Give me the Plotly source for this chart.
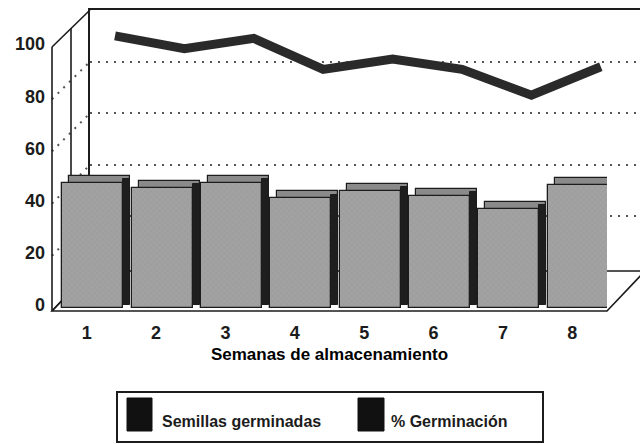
import plotly.graph_objects as go

# ---- data -------------------------------------------------------------
weeks = [1, 2, 3, 4, 5, 6, 7, 8]
seeds_germinated = [48, 46, 48, 42, 45, 43, 38, 47]
germination_pct = [90, 85, 89, 77, 81, 77, 67, 78]
y_ticks = [0, 20, 40, 60, 80, 100]
x_title = "Semanas de almacenamiento"
legend_labels = ["Semillas germinadas", "% Germinación"]

# ---- page geometry (pixels) -------------------------------------------
W, H = 640, 444
FRONT_L, FRONT_R = 52, 607          # front (bar) plane
FRONT_Y0, FRONT_Y100 = 308, 47
BACK_L, BACK_R = 90, 640            # back wall plane
BACK_Y0, BACK_Y100 = 268, 10
FLOOR_FRONT = 311
DEPTH_X, DEPTH_Y = BACK_L - FRONT_L, FRONT_Y0 - BACK_Y0

slot = (FRONT_R - FRONT_L) / 8.0          # px per category on front plane
back_slot = 69.4
back_first = 115

bar_w = 61 / slot                     # front face width (category units)
bar_shift = 6 / slot                  # bars sit slightly behind the floor edge
side_w = 7 / slot                     # width of the dark side face
top_d = 7 / ((FRONT_Y0 - FRONT_Y100) / 100.0)   # height of the top face


def fx(x):
    return x / W


def fy(y):
    return 1 - y / H


def front_y(v):
    return FRONT_Y0 - (FRONT_Y0 - FRONT_Y100) * v / 100.0


def back_y(v):
    return BACK_Y0 - (BACK_Y0 - BACK_Y100) * v / 100.0


ink = "#1c1c1c"
font_family = "Liberation Sans, Arial, sans-serif"

fig = go.Figure()

# Line on the back wall
fig.add_trace(go.Scatter(
    x=weeks, y=germination_pct, mode="lines",
    line=dict(color="#2a2a2a", width=9),
    xaxis="x", yaxis="y", showlegend=False, name=legend_labels[1],
))

# 3-D style bars: top/back face, dark side face, front face
fig.add_trace(go.Bar(
    x=weeks, y=seeds_germinated, base=top_d,
    width=bar_w, offset=-bar_w / 2 + bar_shift + side_w,
    marker=dict(color="#8a8a8a", line=dict(color=ink, width=1.2)),
    xaxis="x2", yaxis="y2", showlegend=False, hoverinfo="skip",
))
fig.add_trace(go.Bar(
    x=weeks, y=seeds_germinated, base=top_d * 0.5,
    width=side_w, offset=bar_w / 2 + bar_shift,
    marker=dict(color="#1e1e1e", line=dict(color=ink, width=1)),
    xaxis="x2", yaxis="y2", showlegend=False, hoverinfo="skip",
))
fig.add_trace(go.Bar(
    x=weeks, y=seeds_germinated,
    width=bar_w, offset=-bar_w / 2 + bar_shift,
    marker=dict(color="#9c9c9c", line=dict(color=ink, width=1.3),
                pattern=dict(shape="x", size=4, solidity=0.12,
                             fgcolor="#7c7c7c", bgcolor="#a2a2a2")),
    xaxis="x2", yaxis="y2", showlegend=False, name=legend_labels[0],
))

# ---- frame of the 3-D box ----------------------------------------------
shapes = []
line_k = dict(color=ink, width=1.6)
dot_k = dict(color="#555555", width=2, dash="2px,6px")

# floor
shapes.append(dict(
    type="path", xref="paper", yref="paper", layer="below",
    path=(f"M{fx(FRONT_L)},{fy(FLOOR_FRONT)} L{fx(FRONT_R)},{fy(FLOOR_FRONT)} "
          f"L{fx(FRONT_R + DEPTH_X)},{fy(FLOOR_FRONT - DEPTH_Y)} "
          f"L{fx(BACK_L)},{fy(FLOOR_FRONT - DEPTH_Y)} Z"),
    fillcolor="white", line=line_k,
))
# side wall grid lines
for v in y_ticks:
    style = line_k if v in (0, 100) else dot_k
    y0 = FLOOR_FRONT if v == 0 else front_y(v)
    y1 = FLOOR_FRONT - DEPTH_Y if v == 0 else back_y(v)
    shapes.append(dict(type="line", xref="paper", yref="paper", layer="below",
                       x0=fx(FRONT_L), y0=fy(y0), x1=fx(BACK_L), y1=fy(y1),
                       line=style))
# divider between the two rows on the side wall
mid_x = (FRONT_L + BACK_L) / 2
shapes.append(dict(type="line", xref="paper", yref="paper", layer="below",
                   x0=fx(mid_x), y0=fy((FRONT_Y100 + BACK_Y100) / 2),
                   x1=fx(mid_x), y1=fy(FLOOR_FRONT - DEPTH_Y / 2),
                   line=line_k))
# front left edge (value axis)
shapes.append(dict(type="line", xref="paper", yref="paper", layer="above",
                   x0=fx(FRONT_L), y0=fy(FRONT_Y100),
                   x1=fx(FRONT_L), y1=fy(FLOOR_FRONT), line=line_k))

# ---- legend box -----------------------------------------------------------
shapes.append(dict(type="rect", xref="paper", yref="paper",
                   x0=fx(117), x1=fx(543), y0=fy(392), y1=fy(442),
                   line=dict(color=ink, width=2), fillcolor="white"))
for x0, x1 in [(127, 152), (358, 384)]:
    shapes.append(dict(type="rect", xref="paper", yref="paper",
                       x0=fx(x0), x1=fx(x1), y0=fy(398), y1=fy(431),
                       line=dict(color="#111", width=1), fillcolor="#111"))

annotations = [
    dict(text=legend_labels[0], x=fx(160), y=fy(421), xref="paper", yref="paper",
         xanchor="left", yanchor="middle", showarrow=False,
         font=dict(family=font_family, size=16, color=ink, weight="bold")),
    dict(text=legend_labels[1], x=fx(389), y=fy(421), xref="paper", yref="paper",
         xanchor="left", yanchor="middle", showarrow=False,
         font=dict(family=font_family, size=16, color=ink, weight="bold")),
]

tick_font = dict(family=font_family, size=18, color=ink, weight="bold")

fig.update_layout(
    width=W, height=H,
    margin=dict(l=0, r=0, t=0, b=0),
    paper_bgcolor="white", plot_bgcolor="rgba(0,0,0,0)",
    barmode="overlay", bargap=0,
    shapes=shapes, annotations=annotations,
    # back wall
    xaxis=dict(domain=[fx(BACK_L), fx(BACK_R)],
               range=[1 - (back_first - BACK_L) / back_slot,
                      1 + (BACK_R - back_first) / back_slot],
               anchor="y", side="top", showline=True, linecolor=ink, linewidth=1.6,
               showgrid=False, zeroline=False, showticklabels=False, ticks="",
               automargin=False, fixedrange=True),
    yaxis=dict(domain=[fy(BACK_Y0), fy(BACK_Y100)], range=[0, 100],
               anchor="x", showline=True, linecolor=ink, linewidth=1.6,
               tickvals=[20, 40, 60, 80], showgrid=True, gridcolor="#555555",
               gridwidth=2, griddash="2px,6px", zeroline=False,
               showticklabels=False, ticks="", automargin=False, fixedrange=True),
    # front plane with the bars
    xaxis2=dict(domain=[fx(FRONT_L), fx(FRONT_R)], range=[0.5, 8.5],
                anchor="y2", tickvals=weeks, ticktext=[str(w) for w in weeks],
                tickfont=tick_font, ticks="", ticklabelstandoff=12,
                showline=False, showgrid=False, zeroline=False,
                title=dict(text=x_title, standoff=6,
                           font=dict(family=font_family, size=17, color="#000",
                                     weight="bold")),
                automargin=False, fixedrange=True),
    yaxis2=dict(domain=[fy(FRONT_Y0), fy(FRONT_Y100)], range=[0, 100],
                anchor="x2", tickvals=y_ticks, tickfont=tick_font, ticks="",
                ticklabelstandoff=6, ticklabelshift=-3,
                showline=False, showgrid=False, zeroline=False,
                automargin=False, fixedrange=True),
)

fig.write_html("out.html")
